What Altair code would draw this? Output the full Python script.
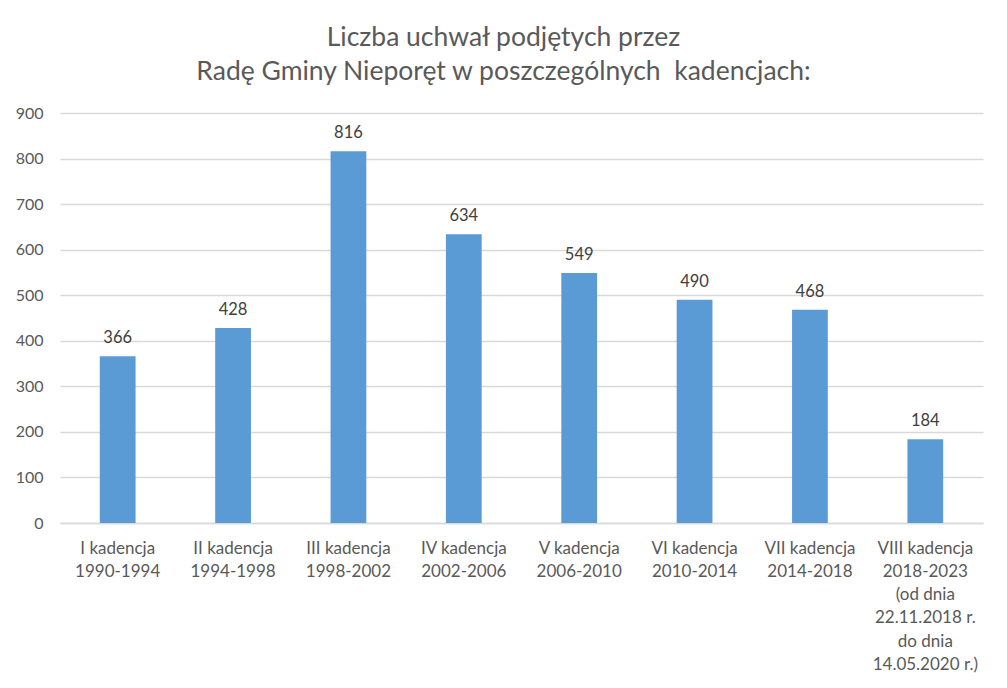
import altair as alt
import pandas as pd

categories = [
    "I kadencja\n1990-1994",
    "II kadencja\n1994-1998",
    "III kadencja\n1998-2002",
    "IV kadencja\n2002-2006",
    "V kadencja\n2006-2010",
    "VI kadencja\n2010-2014",
    "VII kadencja\n2014-2018",
    "VIII kadencja\n2018-2023\n(od dnia\n22.11.2018 r.\ndo dnia\n14.05.2020 r.)",
]
values = [366, 428, 816, 634, 549, 490, 468, 184]
title_lines = ["Liczba uchwał podjętych przez", "Radę Gminy Nieporęt w poszczególnych\u00a0 kadencjach:"]

df = pd.DataFrame({"cat": categories, "val": values})

FONT = "Lato"
GRAY = "#595959"

x = alt.X("cat:N", sort=categories, title=None,
          scale=alt.Scale(paddingInner=0.69, paddingOuter=0.345),
          axis=alt.Axis(labelExpr="split(datum.label, '\\n')", labelAngle=0,
                        labelFontSize=17, labelColor=GRAY, labelFont=FONT,
                        labelLineHeight=23.3, labelPadding=17, ticks=False,
                        domainColor="#d9d9d9", domainWidth=1.3, labelBaseline="top"))
y = alt.Y("val:Q", title=None,
          scale=alt.Scale(domain=[0, 900]),
          axis=alt.Axis(values=list(range(0, 901, 100)), labelFontSize=16,
                        labelColor=GRAY, labelFont=FONT, labelPadding=17,
                        ticks=False, domain=False, gridColor="#d9d9d9", gridWidth=1.3))

bars = alt.Chart(df).mark_bar(color="#5B9BD5").encode(x=x, y=y)
labels = alt.Chart(df).mark_text(dy=-18, fontSize=16.5, color="#404040", font=FONT).encode(
    x=alt.X("cat:N", sort=categories), y="val:Q", text="val:Q")

chart = (bars + labels).properties(
    width=923, height=410,
    title=alt.TitleParams(title_lines, fontSize=26.5, font=FONT, color=GRAY,
                          fontWeight="normal", lineHeight=34, anchor="middle",
                          dx=-18, offset=20),
    padding={"left": 52, "top": 105, "right": 16, "bottom": 157},
    autosize=alt.AutoSizeParams(type="none"),
).configure_view(stroke=None)

chart.save("out.html", embed_options={"renderer": "svg", "actions": False})
